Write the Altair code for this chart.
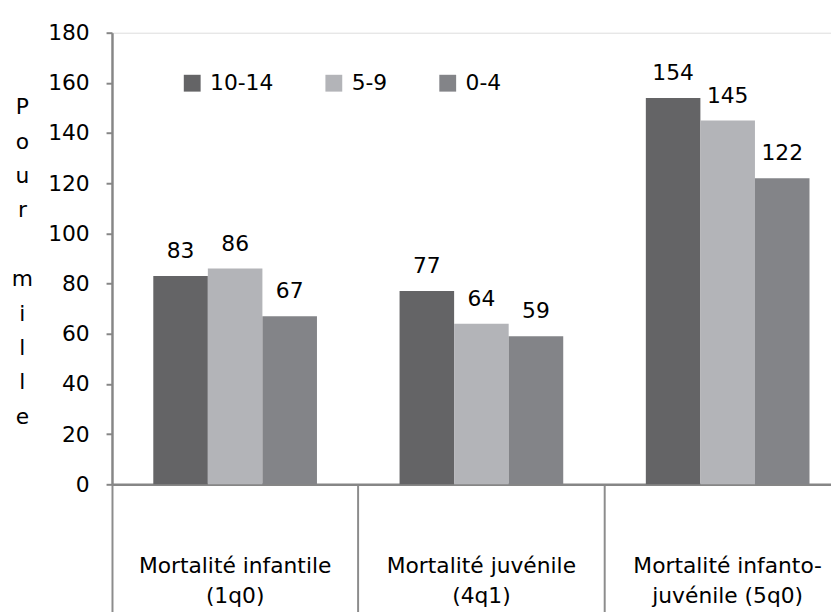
import altair as alt
import pandas as pd

categories = ["Mortalité infantile|(1q0)", "Mortalité juvénile|(4q1)", "Mortalité infanto-|juvénile (5q0)"]
groups = ["10-14", "5-9", "0-4"]
values_10_14 = [83, 77, 154]
values_5_9 = [86, 64, 145]
values_0_4 = [67, 59, 122]
colors = ["#646466", "#b3b4b8", "#838488"]
y_ticks = [0, 20, 40, 60, 80, 100, 120, 140, 160, 180]
y_title_letters = ["P", "o", "u", "r", "\u2800", "m", "i", "l", "l", "e"]

rows = []
for g, vals in zip(groups, [values_10_14, values_5_9, values_0_4]):
    for c, v in zip(categories, vals):
        rows.append({"cat": c, "group": g, "value": v})
df = pd.DataFrame(rows)

FONT = "DejaVu Sans"
FS = 22
AXIS_GRAY = "#868686"

x_enc = alt.X(
    "cat:N",
    sort=categories,
    scale=alt.Scale(range=[0, 746], paddingInner=0, paddingOuter=0),
    axis=alt.Axis(
        title=None,
        labelExpr="split(datum.label, '|')",
        bandPosition=0,
        tickSize=130,
        labelPadding=-58,
        labelFontSize=FS,
        labelFont=FONT,
        labelLineHeight=30,
        labelAngle=0,
        labelAlign="center",
        labelBaseline="top",
        labelLimit=400,
        labelOverlap=False,
        labelColor="black",
        domainColor=AXIS_GRAY,
        domainWidth=2.5,
        tickColor="#8c8c8c",
        tickWidth=2,
    ),
)

xoff_enc = alt.XOffset(
    "group:N", sort=groups, scale=alt.Scale(paddingInner=0, paddingOuter=0.757)
)

y_enc = alt.Y(
    "value:Q",
    scale=alt.Scale(domain=[0, 180], nice=False),
    axis=alt.Axis(
        values=y_ticks,
        title=y_title_letters,
        titleAngle=0,
        titleX=-91,
        titleY=75,
        titleAlign="center",
        titleBaseline="middle",
        titleFontSize=FS,
        titleFont=FONT,
        titleFontWeight="normal",
        titleLineHeight=34.7,
        titleColor="black",
        tickSize=6,
        labelPadding=17,
        labelFontSize=FS,
        labelFont=FONT,
        labelColor="black",
        domainColor=AXIS_GRAY,
        domainWidth=2.5,
        tickColor=AXIS_GRAY,
        tickWidth=2,
        grid=False,
    ),
)

bars = alt.Chart(df).mark_bar().encode(
    x=x_enc,
    xOffset=xoff_enc,
    y=y_enc,
    color=alt.Color(
        "group:N",
        sort=groups,
        scale=alt.Scale(domain=groups, range=colors),
        legend=alt.Legend(
            title=None,
            orient="none",
            legendX=70,
            legendY=40,
            direction="horizontal",
            symbolType="square",
            symbolSize=289,
            symbolStrokeWidth=0,
            labelFontSize=FS,
            labelFont=FONT,
            labelOffset=7,
            columnPadding=50,
            labelColor="black",
        ),
    ),
)

labels = alt.Chart(df).mark_text(
    dy=-18, baseline="alphabetic", align="center", fontSize=FS, font=FONT, color="black"
).encode(
    x=alt.X("cat:N", sort=categories),
    xOffset=alt.XOffset("group:N", sort=groups),
    y=alt.Y("value:Q"),
    text=alt.Text("value:Q"),
)

chart = alt.layer(bars, labels).properties(
    width=726,
    height=456,
    padding={"left": 105, "top": 22, "right": 0, "bottom": 126},
    autosize=alt.AutoSizeParams(type="none"),
).configure_view(stroke=None).configure(font=FONT)

chart.save("out.html", embed_options={"renderer": "svg", "actions": False})
